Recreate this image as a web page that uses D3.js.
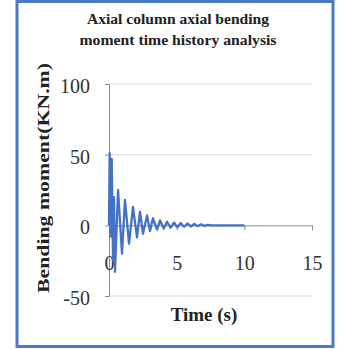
<!DOCTYPE html>
<html>
<head>
<meta charset="utf-8">
<script src="https://cdn.jsdelivr.net/npm/d3@7"></script>
<style>
  body { margin: 0; background: #fff; }
  svg { display: block; }
</style>
</head>
<body>
<div id="chart"></div>
<script>
// values (time in s, bending moment in KN.m)
const times = [0, 0.05, 0.12, 0.2, 0.3, 0.37, 0.44, 0.67, 0.96, 1.18, 1.48, 1.77, 2.07, 2.29, 2.51, 2.81,
  3.03, 3.25, 3.55, 3.77, 4.05, 4.29, 4.55, 4.8, 5.05, 5.3, 5.55, 5.8, 6.05, 6.3, 6.55, 6.8, 7.05, 7.3, 7.6, 10];
const moments = [0, 51, -8, 47, -25, 20, -33, 25, -20, 18, -13, 13, -8.5, 9.6, -6, 7,
  -4, 5, -3, 3.5, -2.2, 2.5, -1.7, 2, -1.3, 1.6, -1, 1.3, -0.8, 1, -0.6, 0.7, -0.4, 0.3, 0, 0];
const xTicks = [0, 5, 10, 15];
const yTicks = [-50, 0, 50, 100];
const titleLines = ["Axial column axial bending", "moment time history analysis"];

const width = 341, height = 349;
const svg = d3.select("#chart").append("svg")
  .attr("width", width)
  .attr("height", height);

// outer frame
svg.append("rect")
  .attr("x", 17).attr("y", 1.5)
  .attr("width", 316).attr("height", 345)
  .attr("fill", "#fff")
  .attr("stroke", "#4a7cc4")
  .attr("stroke-width", 3);

const x = d3.scaleLinear().domain([0, 15]).range([109, 312]);
const y = d3.scaleLinear().domain([-50, 100]).range([296, 84]);

// gridlines
svg.append("g")
  .selectAll("line")
  .data(yTicks.filter(d => d !== 0))
  .enter()
  .append("line")
  .attr("x1", x(0)).attr("x2", x(15))
  .attr("y1", d => y(d)).attr("y2", d => y(d))
  .attr("stroke", "#d9d9d9")
  .attr("stroke-width", 1);

// y axis
let yAxis = d3.axisLeft(y).tickValues(yTicks).tickFormat(d => String(d))
  .tickSize(4).tickSizeOuter(0).tickPadding(15);
let gy = svg.append("g")
  .attr("transform", `translate(${x(0)},0)`)
  .call(yAxis);
gy.select(".domain").attr("stroke", "#8c8c8c");
gy.selectAll(".tick line").attr("stroke", "#8c8c8c");
gy.selectAll(".tick text")
  .attr("font-family", "Liberation Serif, Times New Roman, serif")
  .attr("font-size", 20)
  .attr("fill", "#333")
  .attr("dy", "0.42em");

// x axis crossing at zero
let xAxis = d3.axisBottom(x).tickValues(xTicks).tickFormat(d => String(d))
  .tickSize(5).tickSizeOuter(0).tickPadding(25);
let gx = svg.append("g")
  .attr("transform", `translate(0,${y(0)})`)
  .call(xAxis);
gx.select(".domain").attr("stroke", "#8c8c8c");
gx.selectAll(".tick line").attr("stroke", "#8c8c8c");
gx.selectAll(".tick text")
  .attr("font-family", "Liberation Serif, Times New Roman, serif")
  .attr("font-size", 20)
  .attr("fill", "#333");

// data line
const line = d3.line()
  .x((d, i) => x(times[i]))
  .y(d => y(d));

svg.append("path")
  .datum(moments)
  .attr("d", line)
  .attr("fill", "none")
  .attr("stroke", "#4472c4")
  .attr("stroke-width", 2.3)
  .attr("stroke-linejoin", "round");

// titles
svg.append("g")
  .selectAll("text")
  .data(titleLines)
  .enter()
  .append("text")
  .text(d => d)
  .attr("x", 178)
  .attr("y", (d, i) => 24 + i * 21)
  .attr("text-anchor", "middle")
  .attr("font-family", "Liberation Serif, Times New Roman, serif")
  .attr("font-weight", "bold")
  .attr("font-size", 14)
  .attr("textLength", (d, i) => i === 0 ? 182 : 197)
  .attr("lengthAdjust", "spacingAndGlyphs")
  .attr("fill", "#222");

svg.append("text")
  .text("Time (s)")
  .attr("x", 204)
  .attr("y", 321)
  .attr("text-anchor", "middle")
  .attr("font-family", "Liberation Serif, Times New Roman, serif")
  .attr("font-weight", "bold")
  .attr("font-size", 19)
  .attr("fill", "#222");

svg.append("text")
  .text("Bending moment(KN.m)")
  .attr("transform", "translate(49,178) rotate(-90)")
  .attr("text-anchor", "middle")
  .attr("font-family", "Liberation Serif, Times New Roman, serif")
  .attr("font-weight", "bold")
  .attr("font-size", 16)
  .attr("textLength", 230)
  .attr("lengthAdjust", "spacingAndGlyphs")
  .attr("fill", "#222");
</script>
</body>
</html>
